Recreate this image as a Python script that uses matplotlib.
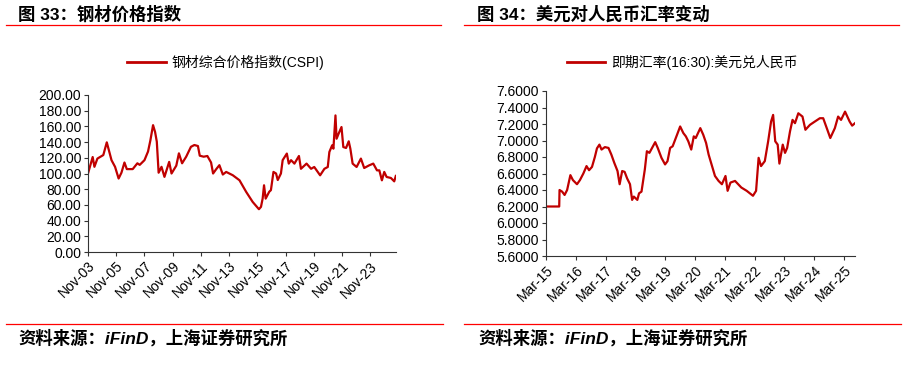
import matplotlib
matplotlib.use("Agg")
from matplotlib import pyplot as plt
from matplotlib.lines import Line2D
import matplotlib.dates as mdates
import pandas as pd

plt.rcParams['font.family'] = ['Liberation Sans', 'Noto Sans CJK SC', 'DejaVu Sans']

# steel price index (CSPI)
cspi_dates = ['2003-11-01', '2004-03-01', '2004-04-15', '2004-07-01', '2004-12-01', '2005-03-01',
              '2005-07-01', '2005-10-01', '2006-01-01', '2006-03-15', '2006-06-01', '2006-08-01',
              '2007-01-01', '2007-05-01', '2007-07-01', '2007-11-01', '2008-02-01', '2008-04-01',
              '2008-06-10', '2008-08-01', '2008-09-15', '2008-11-01', '2009-01-15', '2009-04-01',
              '2009-08-01', '2009-10-01', '2010-02-01', '2010-04-10', '2010-07-01', '2010-10-15',
              '2011-02-15', '2011-05-15', '2011-08-15', '2011-10-01', '2012-01-10', '2012-04-15',
              '2012-07-20', '2012-09-10', '2012-12-01', '2013-02-20', '2013-05-20', '2013-08-15',
              '2014-02-01', '2014-07-25', '2015-01-15', '2015-07-01', '2015-12-10', '2016-02-01',
              '2016-03-15', '2016-04-20', '2016-06-01', '2016-09-01', '2016-10-15', '2016-12-20',
              '2017-02-25', '2017-04-10', '2017-07-01', '2017-08-15', '2017-12-01', '2018-01-20',
              '2018-03-20', '2018-06-15', '2018-10-10', '2018-12-01', '2019-04-25', '2019-08-20',
              '2019-11-10', '2020-04-10', '2020-07-30', '2020-10-25', '2020-12-05', '2021-02-15',
              '2021-03-20', '2021-05-12', '2021-06-10', '2021-08-01', '2021-10-15', '2021-12-01',
              '2022-02-10', '2022-04-20', '2022-06-01', '2022-07-30', '2022-11-10', '2023-03-01',
              '2023-05-25', '2023-10-01', '2024-01-15', '2024-04-20', '2024-06-20', '2024-08-25',
              '2024-10-25', '2024-12-25', '2025-04-15', '2025-07-10', '2025-08-20']
cspi_values = [100.0, 121.0, 108.5, 119.0, 123.5, 139.7,
               117.0, 108.5, 93.6, 101.0, 114.0, 105.6,
               105.6, 113.0, 111.0, 117.0, 128.0, 142.0,
               161.6, 153.0, 140.5, 101.0, 108.5, 95.7,
               114.8, 100.0, 110.0, 125.7, 113.0, 121.4,
               134.0, 136.3, 135.0, 122.7, 121.4, 122.3,
               114.0, 100.0, 105.6, 110.6, 98.7, 102.0,
               97.8, 91.4, 76.5, 63.8, 54.5, 57.5,
               68.0, 85.0, 68.0, 76.7, 78.8, 102.0,
               100.0, 91.7, 100.0, 117.0, 125.4, 112.6,
               117.0, 112.6, 122.3, 106.0, 112.6, 106.0,
               108.3, 97.7, 106.0, 108.3, 127.4, 135.9,
               131.6, 174.0, 144.3, 150.7, 159.2, 133.7,
               132.5, 141.0, 131.6, 112.6, 108.3, 119.0,
               107.0, 110.4, 112.6, 104.0, 104.0, 91.3,
               102.0, 95.6, 94.3, 90.0, 96.9]

# USD/CNY spot rate (16:30)
fx_dates = ['2015-03-01', '2015-08-10', '2015-08-14', '2015-09-15', '2015-10-15', '2015-11-15',
            '2015-12-25', '2016-01-25', '2016-03-15', '2016-04-20', '2016-06-01', '2016-07-10',
            '2016-08-10', '2016-09-15', '2016-10-20', '2016-11-15', '2016-12-15', '2017-01-10',
            '2017-02-20', '2017-04-05', '2017-05-10', '2017-06-15', '2017-07-25', '2017-08-20',
            '2017-09-20', '2017-10-20', '2017-11-20', '2017-12-25', '2018-01-20', '2018-02-10',
            '2018-03-25', '2018-04-15', '2018-05-15', '2018-06-25', '2018-07-20', '2018-08-20',
            '2018-10-30', '2018-11-30', '2019-01-15', '2019-02-28', '2019-03-30', '2019-05-01',
            '2019-06-01', '2019-07-25', '2019-09-01', '2019-10-10', '2019-11-10', '2019-12-10',
            '2020-01-15', '2020-02-15', '2020-03-10', '2020-05-05', '2020-06-10', '2020-07-15',
            '2020-08-15', '2020-09-20', '2020-11-01', '2020-12-15', '2021-01-25', '2021-03-10',
            '2021-04-05', '2021-05-10', '2021-07-05', '2021-09-20', '2021-11-25', '2022-02-10',
            '2022-03-20', '2022-04-20', '2022-05-20', '2022-07-05', '2022-08-15', '2022-09-20',
            '2022-10-15', '2022-11-10', '2022-12-10', '2022-12-31', '2023-02-10', '2023-03-10',
            '2023-04-05', '2023-05-10', '2023-06-10', '2023-07-10', '2023-08-20', '2023-10-10',
            '2023-11-15', '2024-01-10', '2024-03-10', '2024-05-10', '2024-06-20', '2024-08-10',
            '2024-09-15', '2024-11-10', '2024-12-20', '2025-01-25', '2025-03-15', '2025-05-10',
            '2025-06-10', '2025-07-15']
fx_values = [6.20, 6.20, 6.40, 6.38, 6.34, 6.40,
             6.58, 6.52, 6.47, 6.52, 6.60, 6.69,
             6.64, 6.68, 6.80, 6.905, 6.95, 6.89,
             6.92, 6.91, 6.83, 6.73, 6.63, 6.47,
             6.63, 6.62, 6.54, 6.47, 6.28, 6.32,
             6.28, 6.36, 6.38, 6.65, 6.87, 6.85,
             6.98, 6.91, 6.79, 6.71, 6.75, 6.91,
             6.93, 7.07, 7.17, 7.09, 7.05, 6.99,
             6.89, 7.05, 7.03, 7.15, 7.07, 6.97,
             6.83, 6.71, 6.57, 6.51, 6.47, 6.57,
             6.39, 6.49, 6.51, 6.43, 6.39, 6.33,
             6.39, 6.79, 6.69, 6.75, 6.99, 7.23,
             7.31, 6.99, 6.95, 6.72, 6.95, 6.85,
             6.91, 7.11, 7.25, 7.21, 7.33, 7.29,
             7.13, 7.19, 7.23, 7.27, 7.27, 7.13,
             7.03, 7.15, 7.29, 7.25, 7.35, 7.23,
             7.18, 7.21]

left_title = '图 33：钢材价格指数'
right_title = '图 34：美元对人民币汇率变动'
left_legend = '钢材综合价格指数(CSPI)'
right_legend = '即期汇率(16:30):美元兑人民币'
source = '资料来源：iFinD，上海证券研究所'

W, H = 904, 388
fig = plt.figure(figsize=(W / 100, H / 100), dpi=100)

line_c = '#C00000'
rule_c = '#FF0000'


def fx(px):
    return px / W


def fy(py):
    return 1 - py / H


def style_axes(ax):
    for s in ['top', 'right']:
        ax.spines[s].set_visible(False)
    for s in ['left', 'bottom']:
        ax.spines[s].set_color('#333333')
        ax.spines[s].set_linewidth(0.8)
    ax.tick_params(axis='both', direction='out', length=3, width=0.8,
                   color='#333333', labelsize=10, pad=2)
    for lab in ax.get_xticklabels():
        lab.set_rotation(45)
        lab.set_ha('right')
        lab.set_rotation_mode('anchor')


# left chart
ax1 = fig.add_axes([fx(88), fy(252), fx(396 - 88), (252 - 95) / H])
ax1.plot(pd.to_datetime(cspi_dates), cspi_values, color=line_c, lw=1.6)
ax1.set_ylim(0, 200)
ax1.set_yticks(range(0, 201, 20))
ax1.set_yticklabels(['%.2f' % v for v in range(0, 201, 20)])
ax1.set_xlim(pd.Timestamp('2003-11-01'), pd.Timestamp('2025-08-25'))
ax1.set_xticks(pd.to_datetime(['%d-11-01' % y for y in range(2003, 2024, 2)]))
ax1.xaxis.set_major_formatter(mdates.DateFormatter('%b-%y'))
style_axes(ax1)
ax1.legend([Line2D([], [], color=line_c, lw=2)], [left_legend], loc='center',
           bbox_to_anchor=(fx(226), fy(62)), bbox_transform=fig.transFigure,
           frameon=False, handlelength=2.8, handletextpad=0.4,
           prop={'family': ['Liberation Sans', 'Noto Sans CJK SC'], 'size': 10})

# right chart
ax2 = fig.add_axes([fx(546), fy(256), fx(855 - 546), (256 - 91) / H])
ax2.plot(pd.to_datetime(fx_dates), fx_values, color=line_c, lw=1.6)
ax2.set_ylim(5.6, 7.6)
yt = [5.6 + 0.2 * i for i in range(11)]
ax2.set_yticks(yt)
ax2.set_yticklabels(['%.4f' % v for v in yt])
ax2.set_xlim(pd.Timestamp('2015-03-01'), pd.Timestamp('2025-07-15'))
ax2.set_xticks(pd.to_datetime(['%d-03-01' % y for y in range(2015, 2026)]))
ax2.xaxis.set_major_formatter(mdates.DateFormatter('%b-%y'))
style_axes(ax2)
ax2.legend([Line2D([], [], color=line_c, lw=2)], [right_legend], loc='center',
           bbox_to_anchor=(fx(682), fy(62)), bbox_transform=fig.transFigure,
           frameon=False, handlelength=2.8, handletextpad=0.4,
           prop={'family': ['Liberation Sans', 'Noto Sans CJK SC'], 'size': 10})

# titles and rules
fig.text(fx(18), fy(14), left_title, fontsize=12.5, fontweight='bold', va='center', ha='left')
fig.text(fx(477), fy(14), right_title, fontsize=12.5, fontweight='bold', va='center', ha='left')
for x0, x1 in [(6, 441), (464, 899)]:
    fig.add_artist(Line2D([fx(x0), fx(x1)], [fy(25), fy(25)], color=rule_c, lw=0.9))
    fig.add_artist(Line2D([fx(x0), fx(x1 + 2)], [fy(324), fy(324)], color=rule_c, lw=0.9))

# source notes
fig.text(fx(18), fy(338), source, fontsize=12.5, fontweight='bold', style='italic',
         va='center', ha='left')
fig.text(fx(478), fy(338), source, fontsize=12.5, fontweight='bold', style='italic',
         va='center', ha='left')

fig.savefig('out.png', dpi=100)
